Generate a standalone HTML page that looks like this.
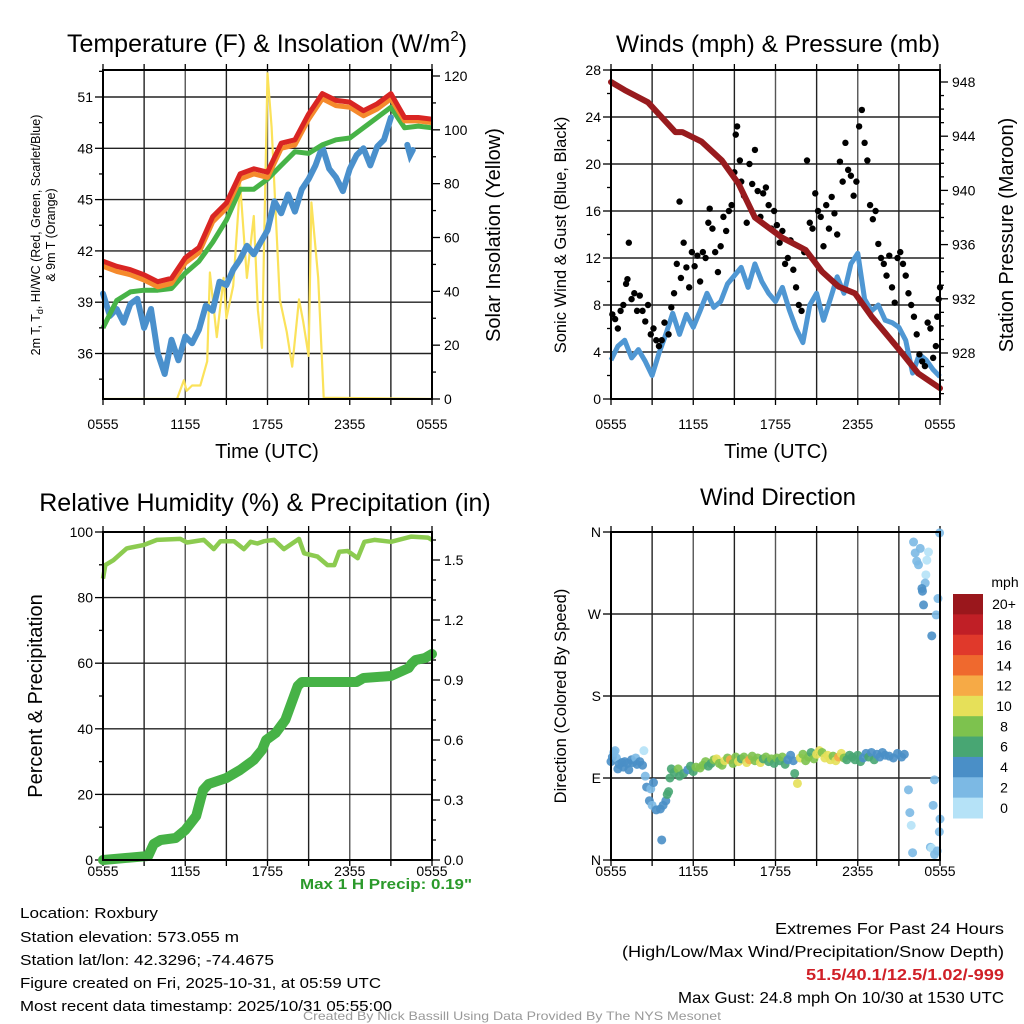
<!DOCTYPE html>
<html><head><meta charset="utf-8">
<style>
html,body{margin:0;padding:0;background:#fff;}
svg{display:block;font-family:"Liberation Sans",sans-serif;}
</style></head>
<body>
<svg id="fig" width="1024" height="1024" viewBox="0 0 1024 1024" xmlns="http://www.w3.org/2000/svg">
<rect width="1024" height="1024" fill="#fff"/>
</svg>
<script>
// ---------- DATA ----------
const tempHours=[0,1,2,3,4,5,6,7,8,9,10,11,12,13,14,15,16,17,18,19,20,21,22,23,24];
const tempRed=[41.4,41.1,40.9,40.6,40.2,40.4,41.6,42.2,44.0,44.8,46.5,46.8,46.6,48.3,48.5,50.0,51.2,50.8,50.7,50.2,50.6,51.2,49.8,49.8,49.7];
const tempOrange=[41.1,40.8,40.6,40.3,39.9,40.1,41.3,41.9,43.7,44.5,46.2,46.5,46.3,48.0,48.2,49.7,50.9,50.5,50.4,49.9,50.3,50.9,49.6,49.6,49.5];
const tempGreen=[37.5,39.1,39.6,39.7,39.7,39.8,40.7,41.4,42.5,43.8,45.6,45.6,46.2,47.0,47.8,47.7,48.2,48.5,48.6,49.2,49.8,50.4,49.2,49.3,49.2];
const dewTimes=[0,0.5,1,1.5,2,2.5,3,3.5,4,4.5,5,5.5,6,6.5,7,7.5,8,8.5,9,9.5,10,10.5,11,11.5,12,12.5,13,13.5,14,14.5,15,15.5,16,16.5,17,17.5,18,18.5,19,19.5,20,20.5,21];
const dewBlue=[39.5,38.2,38.6,37.8,38.9,39.2,37.5,38.6,36.0,34.8,36.8,35.6,37.0,36.6,37.4,38.8,38.5,40.2,40.0,40.9,41.5,42.3,41.8,42.5,43.2,44.9,44.2,45.3,44.3,45.6,46.2,47.0,48.1,46.8,46.3,45.5,46.8,47.6,48.0,47.0,48.1,48.5,49.8];
const dewTimes2=[22.2,22.4,22.6];
const dewBlue2=[48.2,47.6,47.9];
const solarTimes=[0,5.4,5.9,6.1,6.5,7.1,7.6,7.8,8.3,8.8,9,9.5,10,10.5,11,11.3,11.6,12,12.3,12.6,12.9,13.4,13.8,14.3,14.6,15,15.2,15.7,16.1,24];
const solarVals=[0,0,7,3,5,5,14,47,23,45,30,42,80,45,68,33,19,121,101,69,37,25,12,37,29,16,73,45,0.5,0];
const windTimes=[0,0.5,1,1.5,2,2.5,3,3.5,4,4.5,5,5.5,6,6.5,7,7.5,8,8.5,9,9.5,10,10.5,11,11.5,12,12.5,13,13.5,14,14.5,15,15.5,16,16.5,17,17.5,18,18.5,19,19.5,20,20.5,21,21.5,22,22.5,23,23.5,24];
const windVals=[3.3,4.5,5,3.5,4.2,3.2,2.0,3.9,5.5,7.3,5.5,7.2,6.1,7.5,9,7.8,8.3,9.8,10.5,11.2,9.5,11.5,10,9,8.3,9.5,7.6,6.0,4.8,8,9,6.7,8.5,10.4,9,11.5,12.4,8.5,7.5,8,6.7,6.5,6.1,5,2.2,3.8,3.3,2.5,1.9];
const presTimes=[0,0.5,1,2.7,4.7,5.2,6.6,8.1,9.3,10.5,12.5,14.2,15.4,16.6,17.8,19,20.9,22.4,24];
const presVals=[948,947.7,947.4,946.5,944.3,944.3,943.6,942.2,940.5,938,936.5,935.6,934,932.9,932.4,930.7,928.4,926.5,925.4];
const gustTimes=[0.1,0.3,0.5,0.7,0.9,1.1,1.2,1.3,1.5,1.7,1.9,2.1,2.3,2.5,2.7,2.9,3.1,3.3,3.5,3.7,3.9,4.2,4.4,4.6,4.8,5.0,5.1,5.3,5.5,5.7,5.9,6.1,6.3,6.5,6.7,6.9,7.1,7.2,7.4,7.6,7.8,8.0,8.2,8.4,8.6,8.8,9.0,9.1,9.2,9.4,9.5,9.7,9.9,10.1,10.3,10.5,10.7,10.9,11.1,11.3,11.5,11.7,11.9,12.1,12.3,12.5,12.7,12.9,13.1,13.3,13.5,13.7,13.9,14.1,14.3,14.5,14.7,14.9,15.1,15.3,15.5,15.7,15.9,16.1,16.3,16.5,16.7,16.9,17.1,17.3,17.5,17.7,17.9,18.1,18.3,18.5,18.7,18.9,19.1,19.3,19.5,19.7,19.9,20.1,20.3,20.5,20.7,20.9,21.1,21.3,21.5,21.7,21.9,22.1,22.3,22.5,22.7,22.9,23.1,23.3,23.5,23.7,23.8,23.9,24.0];
const gustVals=[7.2,6.8,6.0,7.5,8.0,9.8,10.2,13.3,8.5,9.0,7.5,8.8,7.5,6.6,8.0,5.5,6.0,5.0,4.5,5.0,6.5,5.5,7.8,9.0,11.5,16.8,10.3,13.3,11.2,9.5,12.5,11.3,12.2,10.0,12.5,12.0,15.0,16.2,14.5,12.5,10.8,13.0,15.5,14.3,16.0,16.5,19.3,22.5,23.2,20.3,18.5,17.3,15.0,20.0,18.3,21.2,17.7,15.5,17.5,18.0,16.5,14.5,16.0,14.8,13.3,14.3,11.5,12.0,13.5,11.0,9.5,8.0,7.5,12.5,20.3,15.0,14.5,17.5,16.0,15.5,13.0,16.5,14.5,17.2,15.8,14.0,20.2,18.5,21.8,19.5,19.0,17.3,18.5,23.2,24.6,21.8,20.3,16.5,15.3,16.0,13.2,12.0,11.5,10.5,12.2,9.5,8.2,12.0,12.5,11.5,10.5,9.0,8.0,7.0,5.5,3.8,3.2,2.8,6.5,6.0,3.5,4.5,7.0,8.5,9.5];
const rhTimes=[0,0.17,0.76,1.73,2.95,3.93,5.64,6.13,7.35,8.08,8.57,9.55,10.28,10.77,11.26,11.74,12.48,13.2,14.3,14.67,15.65,16.38,16.87,17.24,17.85,18.58,19.07,19.8,21.02,22.5,23.7,24];
const rhVals=[85.8,89.9,91.4,95,96,97.6,97.9,96.8,97.6,94.8,97.2,97.2,94.8,97,96.5,97.2,97.6,94.8,97.9,93.5,92.5,89.9,89.9,94,94.2,92,97,97.6,97,98.6,98.3,97.6];
const precipTimes=[0,3.3,3.7,4.2,5.3,6,6.8,7.3,7.7,9,10,11,11.6,11.9,12.6,13.3,14.2,14.5,18.5,19,21,22.3,22.5,22.8,23.5,24];
const precipVals=[0,0.02,0.08,0.1,0.11,0.15,0.22,0.35,0.38,0.41,0.45,0.5,0.55,0.6,0.635,0.7,0.87,0.89,0.89,0.91,0.92,0.96,0.98,1.0,1.01,1.03];
const dirTimes=[0.0,0.1,0.2,0.3,0.4,0.5,0.6,0.8,0.9,1.0,1.2,1.3,1.5,1.6,1.8,1.9,2.1,2.3,2.4,2.5,2.6,2.8,2.9,3.0,3.1,3.3,3.6,3.7,3.8,4.0,4.1,4.2,4.3,4.4,4.6,4.9,5.0,5.3,5.6,5.8,6.0,6.2,6.5,6.7,6.9,7.1,7.3,7.5,7.7,7.9,8.1,8.3,8.5,8.7,8.9,9.1,9.3,9.5,9.7,9.9,10.1,10.3,10.5,10.7,10.9,11.1,11.3,11.5,11.7,11.9,12.1,12.3,12.5,12.7,12.9,13.1,13.3,13.4,13.6,13.8,14.0,14.2,14.4,14.6,14.8,15.0,15.2,15.4,15.6,15.8,16.0,16.2,16.4,16.6,16.8,17.0,17.2,17.4,17.6,17.8,18.0,18.2,18.4,18.6,18.8,19.0,19.2,19.4,19.6,19.8,20.0,20.3,20.6,20.9,21.2,21.4,
22.07,22.56,22.19,22.3,22.43,23.16,23.04,22.97,22.92,22.68,22.72,22.8,23.4,23.97,23.85,23.72,
21.7,21.8,21.9,22.0,23.6,23.5,24.0,23.95,23.3,23.4,23.8,23.6];
const dirDeg=[108,113,118,120,112,100,105,107,102,108,106,99,110,107,112,105,108,104,120,92,80,65,78,60,85,55,56,22,60,65,72,75,90,100,96,100,92,95,99,103,97,102,101,104,108,103,106,110,111,106,104,109,112,110,106,113,108,111,113,107,110,114,109,112,107,111,113,108,111,106,112,109,113,105,110,115,109,95,84,112,116,109,113,118,111,116,120,118,112,115,110,114,109,113,117,112,110,115,113,110,115,108,112,117,113,118,110,116,113,118,115,114,112,117,113,116,
349,342,337,328,324,338,329,313,304,298,295,280,246,359,287,269,
77,52,38,8,88,60,45,31,14,13,10,6];
const dirSpeed=[4,4,3,3,3,4,4,4,4,4,4,4,4,4,3,4,4,4,1,3,4,4,3,3,4,4,4,4,5,4,6,7,7,6,6,8,6,7,5,6,7,8,8,8,9,6,7,8,10,9,8,10,9,12,9,8,10,7,8,10,13,9,8,9,10,7,8,7,8,7,9,6,9,6,4,4,5,6,11,10,9,8,8,7,8,10,10,9,10,10,11,9,10,12,11,8,6,7,6,6,6,6,5,4,6,4,6,4,4,4,4,4,4,4,5,4,
3,3,2,3,3,1,1,1,3,4,5,5,5,3,3,3,
3,3,1,3,3,3,3,3,3,1,3,3];
const xTickLabels=["0555","1155","1755","2355","0555"];
const tempTicks=[36,39,42,45,48,51];
const solarTicks=[0,20,40,60,80,100,120];
const windTicks=[0,4,8,12,16,20,24,28];
const presTicks=[928,932,936,940,944,948];
const rhTicks=[0,20,40,60,80,100];
const precipTicks=["0.0","0.3","0.6","0.9","1.2","1.5"];
const dirTicks=["N","E","S","W","N"];
const cbarLabels=["0","2","4","6","8","10","12","14","16","18","20+"];
const cbarColors=["#b5e2f7","#7cb9e4","#4a8fc7","#48a673","#7dc24e","#e6e059","#f6aa46","#ef692e","#e0392b","#c01f26","#9a171c"];

// ---------- HELPERS ----------
const NS="http://www.w3.org/2000/svg";
const svg=document.getElementById('fig');
function mk(tag,attrs,parent){const e=document.createElementNS(NS,tag);for(const k in attrs)e.setAttribute(k,attrs[k]);(parent||svg).appendChild(e);return e;}
function txt(s,attrs,parent){const e=mk('text',attrs,parent);e.textContent=s;return e;}
function xs(x0){return t=>x0+t*(329/24);}
function linear(d0,d1,r0,r1){return v=>r0+(v-d0)*(r1-r0)/(d1-d0);}
function pathD(ts,vs,fx,fy){let d="";for(let i=0;i<ts.length;i++){d+=(i?"L":"M")+fx(ts[i]).toFixed(1)+","+fy(vs[i]).toFixed(1);}return d;}

function frame(g,x0,y0,x1,y1,labOff){
  const gridG=mk('g',{},g);
  
  
  for(let k=0;k<=8;k++){
    const x=x0+k*(x1-x0)/8;
    const l=mk('line',{x1:x,y1:y0,x2:x,y2:y1,stroke:(k%2?"#222":"#555"),"stroke-width":1.4},gridG);
    
    
    const tk=mk('line',{x1:x,y1:y1,x2:x,y2:y1+6,stroke:"#000","stroke-width":1.3},gridG);
    
    
    const tt=mk('line',{x1:x,y1:y0,x2:x,y2:y0-6,stroke:"#000","stroke-width":1.3},gridG);
    
    
  }
  for(let k=0;k<5;k++){
    const t=txt(xTickLabels[k],{x:x0+k*(x1-x0)/4,y:y1+labOff,"font-size":14,"text-anchor":"middle"},g);
    
    
  }
  return gridG;
}
function hgrid(g,x0,x1,y){
  const l=mk('line',{x1:x0,y1:y,x2:x1,y2:y,stroke:"#222","stroke-width":1.4},g);
  
  
}
function leftTick(g,x0,y,lab,len){
  const l=mk('line',{x1:x0,y1:y,x2:x0-len,y2:y,stroke:"#000","stroke-width":1.3},g);
  
  
  if(lab!==null){const t=txt(lab,{x:x0-10,y:y+5,"font-size":14,"text-anchor":"end"},g);
  
  }
}
function rightTick(g,x1,y,lab,len){
  const l=mk('line',{x1:x1,y1:y,x2:x1+len,y2:y,stroke:"#000","stroke-width":1.3},g);
  
  
  if(lab!==null){const t=txt(lab,{x:x1+12,y:y+5,"font-size":14,"text-anchor":"start"},g);
  
  }
}
function border(g,x0,y0,x1,y1){
  const r=mk('rect',{x:x0,y:y0,width:x1-x0,height:y1-y0,fill:"none",stroke:"#000","stroke-width":2},g);
  
  
}
function rotText(s,x,y,size,parent){
  const t=txt(s,{x:x,y:y,"font-size":size,"text-anchor":"middle",transform:`rotate(-90 ${x} ${y})`},parent);
  return t;
}

// ---------- PANEL 1: temperature ----------
(function(){
  const x0=103,x1=432,y0=70,y1=399;
  const g=mk('g',{});
  
  
  const fx=xs(x0), fy=linear(36,51,353.5,97), fs=linear(0,120,399,76);
  frame(g,x0,y0,x1,y1,30);
  tempTicks.forEach(v=>{hgrid(g,x0,x1,fy(v));leftTick(g,x0,fy(v),String(v),8);leftTick(g,x0,fy(v+1.5),null,4);});
  leftTick(g,x0,fy(34.5),null,4);
  solarTicks.forEach(v=>{rightTick(g,x1,fs(v),String(v),8);if(v<120)rightTick(g,x1,fs(v+10),null,4);});
  const clip=mk('clipPath',{id:'c1'},g);const cr=mk('rect',{x:x0,y:y0,width:x1-x0,height:y1-y0},clip);
  const s=mk('path',{d:pathD(solarTimes,solarVals,fx,fs),fill:"none",stroke:"#fbe25a","stroke-width":2.2,"stroke-linejoin":"round","clip-path":"url(#c1)"},g);
  
  
  const b=mk('path',{d:pathD(dewTimes,dewBlue,fx,fy),fill:"none",stroke:"#4a90cc","stroke-width":6,"stroke-linejoin":"round","stroke-linecap":"round"},g);
  
  
  const b2=mk('path',{d:pathD(dewTimes2,dewBlue2,fx,fy),fill:"none",stroke:"#4a90cc","stroke-width":6,"stroke-linecap":"round"},g);
  
  
  const gr=mk('path',{d:pathD(tempHours,tempGreen,fx,fy),fill:"none",stroke:"#47b347","stroke-width":5,"stroke-linejoin":"round"},g);
  
  
  const o=mk('path',{d:pathD(tempHours,tempOrange,fx,fy),fill:"none",stroke:"#f58a2c","stroke-width":5,"stroke-linejoin":"round"},g);
  
  
  const r=mk('path',{d:pathD(tempHours,tempRed,fx,fy),fill:"none",stroke:"#d92523","stroke-width":5,"stroke-linejoin":"round"},g);
  
  
  border(g,x0,y0,x1,y1);
  const t=txt("",{x:267,y:52,"font-size":25,"text-anchor":"middle"},g);
  
  
  t.innerHTML='Temperature (F) &amp; Insolation (W/m<tspan font-size="15" dy="-11">2</tspan><tspan dy="11">)</tspan>';
  const xl=txt("Time (UTC)",{x:267,y:458,"font-size":20,"text-anchor":"middle"},g);
  
  
  const yl=txt("",{x:40,y:235,"font-size":12.5,"text-anchor":"middle",transform:"rotate(-90 40 235)"},g);
  
  
  yl.innerHTML='2m T, T<tspan font-size="9" dy="3">d</tspan><tspan dy="-3">, HI/WC (Red, Green, Scarlet/Blue)</tspan>';
  const yl2=rotText("& 9m T (Orange)",55,235,12.5,g);
  
  
  const yr=rotText("Solar Insolation (Yellow)",500,235,20,g);
  
  
})();

// ---------- PANEL 2: winds ----------
(function(){
  const x0=611,x1=940,y0=70,y1=399;
  const g=mk('g',{});
  
  
  const fx=xs(x0), fy=linear(0,28,399,70), fp=linear(928,948,353,82);
  frame(g,x0,y0,x1,y1,30);
  windTicks.forEach(v=>{hgrid(g,x0,x1,fy(v));leftTick(g,x0,fy(v),String(v),8);if(v<28)leftTick(g,x0,fy(v+2),null,4);});
  presTicks.forEach(v=>{rightTick(g,x1,fp(v),String(v),8);for(let m=1;m<4;m++){const yy=fp(v+m);if(yy>y0)rightTick(g,x1,yy,null,4);} });
  [925,926,927].forEach(v=>rightTick(g,x1,fp(v),null,4));
  const w=mk('path',{d:pathD(windTimes,windVals,fx,fy),fill:"none",stroke:"#4f97d3","stroke-width":5,"stroke-linejoin":"round"},g);
  
  
  for(let i=0;i<gustTimes.length;i++){
    const c=mk('circle',{cx:fx(gustTimes[i]),cy:fy(gustVals[i]),r:3.2,fill:"#000"},g);
    
    
  }
  const p=mk('path',{d:pathD(presTimes,presVals,fx,fp),fill:"none",stroke:"#981b1e","stroke-width":6,"stroke-linejoin":"round","stroke-linecap":"round"},g);
  
  
  border(g,x0,y0,x1,y1);
  const t=txt("Winds (mph) & Pressure (mb)",{x:778,y:52,"font-size":24.5,"text-anchor":"middle"},g);
  
  
  const xl=txt("Time (UTC)",{x:776,y:458,"font-size":20,"text-anchor":"middle"},g);
  
  
  const yl=rotText("Sonic Wind & Gust (Blue, Black)",566,235,16.5,g);
  
  
  const yr=rotText("Station Pressure (Maroon)",1013,235,20,g);
  
  
})();

// ---------- PANEL 3: RH & precip ----------
(function(){
  const x0=103,x1=432,y0=532,y1=860;
  const g=mk('g',{});
  
  
  const fx=xs(x0), fy=linear(0,100,860,532), fp=linear(0,1.5,860,560);
  frame(g,x0,y0,x1,y1,16);
  rhTicks.forEach(v=>{hgrid(g,x0,x1,fy(v));leftTick(g,x0,fy(v),String(v),8);if(v<100)leftTick(g,x0,fy(v+10),null,4);});
  precipTicks.forEach((lab,i)=>{const v=i*0.3;rightTick(g,x1,fp(v),lab,8);if(i<5){rightTick(g,x1,fp(v+0.1),null,4);rightTick(g,x1,fp(v+0.2),null,4);}});
  rightTick(g,x1,fp(1.6),null,4);
  const pr=mk('path',{d:pathD(precipTimes,precipVals,fx,fp),fill:"none",stroke:"#46b246","stroke-width":10,"stroke-linejoin":"round","stroke-linecap":"round"},g);
  
  
  const rh=mk('path',{d:pathD(rhTimes,rhVals,fx,fy),fill:"none",stroke:"#8ccb50","stroke-width":4.5,"stroke-linejoin":"round"},g);
  
  
  border(g,x0,y0,x1,y1);
  const t=txt("Relative Humidity (%) & Precipitation (in)",{x:265,y:511,"font-size":25,"text-anchor":"middle"},g);
  
  
  const yl=rotText("Percent & Precipitation",42,696,20,g);
  
  
  const mp=txt('Max 1 H Precip: 0.19"',{x:472,y:889,"font-size":15,"font-weight":"bold",fill:"#2b9a2b","text-anchor":"end",textLength:172,lengthAdjust:"spacingAndGlyphs"},g);
  
  
})();

// ---------- PANEL 4: wind direction ----------
(function(){
  const x0=611,x1=940,y0=532,y1=860;
  const g=mk('g',{});
  
  
  const fx=xs(x0), fy=linear(0,360,860,532);
  frame(g,x0,y0,x1,y1,16);
  dirTicks.forEach((lab,i)=>{const y=fy(i*90);hgrid(g,x0,x1,y);leftTick(g,x0,y,lab,8);});
  for(let i=0;i<dirTimes.length;i++){
    const ci=Math.min(10,Math.floor(dirSpeed[i]/2));
    const c=mk('circle',{cx:fx(dirTimes[i]),cy:fy(dirDeg[i]),r:4.5,fill:cbarColors[ci],"fill-opacity":0.9},g);
    
    
  }
  border(g,x0,y0,x1,y1);
  const t=txt("Wind Direction",{x:778,y:505,"font-size":24,"text-anchor":"middle"},g);
  
  
  const yl=rotText("Direction (Colored By Speed)",566,696,16.5,g);
  
  
  const cb=mk('g',{},g);
  
  
  const u=txt("mph",{x:1005,y:587,"font-size":14,"text-anchor":"middle"},cb);
  
  
  const h=(818-594)/11;
  for(let i=0;i<11;i++){
    const idx=10-i;
    const y=594+i*h;
    const r=mk('rect',{x:953,y:y,width:30,height:h+0.5,fill:cbarColors[idx]},cb);
    
    
    const l=txt(cbarLabels[idx],{x:1004,y:y+h/2+5,"font-size":14,"text-anchor":"middle"},cb);
    
    
  }
})();

// ---------- FOOTER TEXT ----------
(function(){
  const g=mk('g',{});
  
  
  const left=[["Location: Roxbury",918,138],["Station elevation: 573.055 m",942,219],["Station lat/lon: 42.3296; -74.4675",965,254],["Figure created on Fri, 2025-10-31, at 05:59 UTC",988,361],["Most recent data timestamp: 2025/10/31 05:55:00",1011,372]];
  left.forEach(a=>{const t=txt(a[0],{x:20,y:a[1],"font-size":15,textLength:a[2],lengthAdjust:"spacingAndGlyphs"},g);
    
    });
  const right=[["Extremes For Past 24 Hours",934,229,"#000","normal"],["(High/Low/Max Wind/Precipitation/Snow Depth)",957,382,"#000","normal"],["51.5/40.1/12.5/1.02/-999",980,198,"#d02027","bold"],["Max Gust: 24.8 mph On 10/30 at 1530 UTC",1003,326,"#000","normal"]];
  right.forEach(a=>{const t=txt(a[0],{x:1004,y:a[1],"font-size":16,"text-anchor":"end",fill:a[3],"font-weight":a[4],textLength:a[2],lengthAdjust:"spacingAndGlyphs"},g);
    
    });
  const c=txt("Created By Nick Bassill Using Data Provided By The NYS Mesonet",{x:512,y:1020,"font-size":12,fill:"#999","text-anchor":"middle",textLength:418,lengthAdjust:"spacingAndGlyphs"},g);
  
  
})();
</script>
</body></html>
